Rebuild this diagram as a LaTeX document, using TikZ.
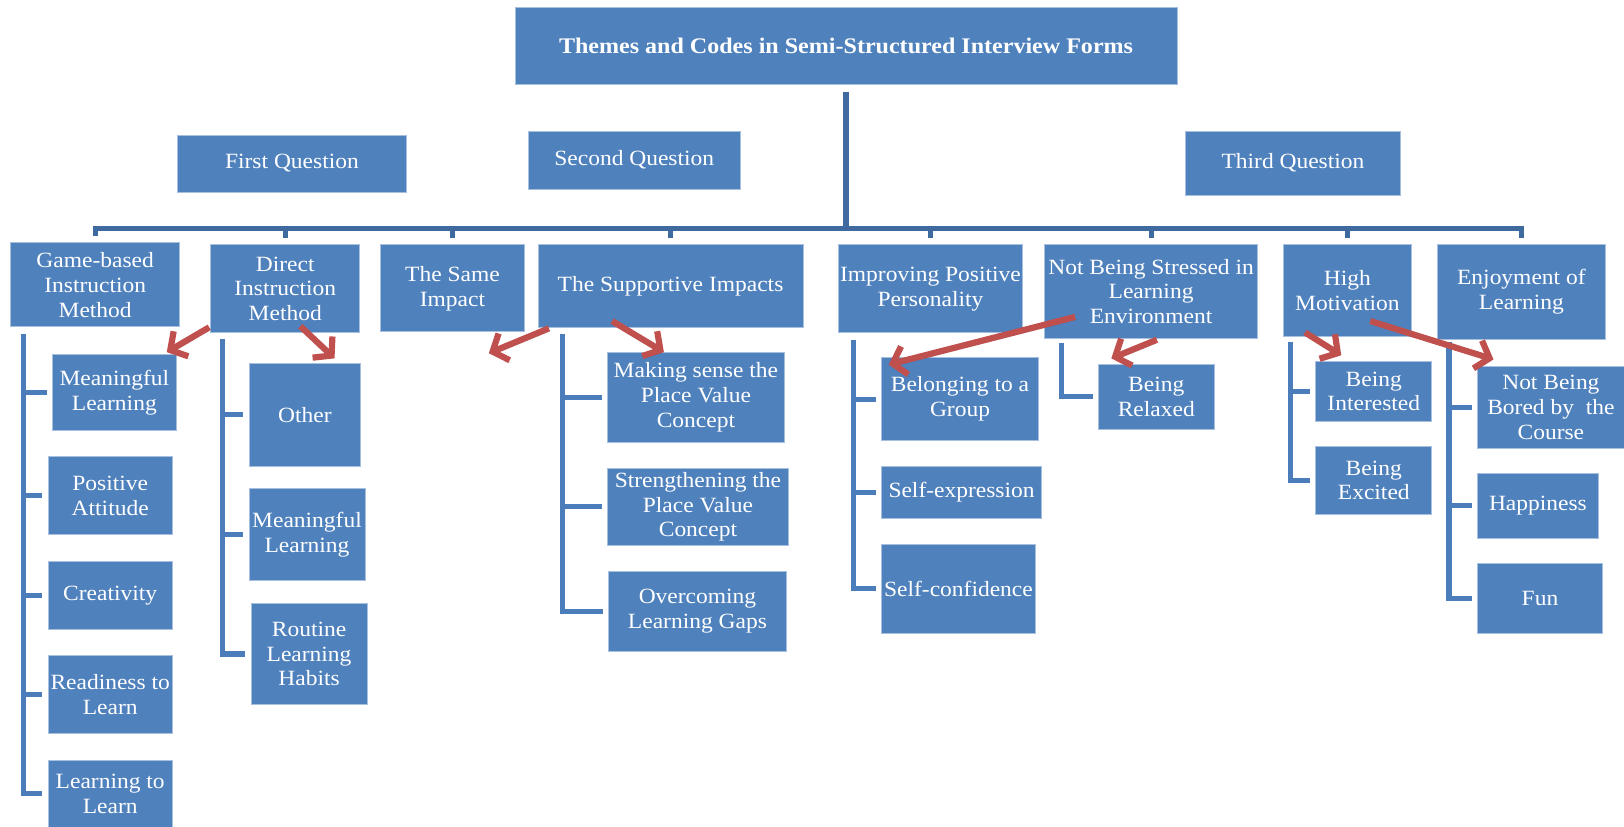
\documentclass[tikz,border=0pt]{standalone}
\usepackage{fontspec}
\setmainfont{Liberation Serif}[FakeStretch=1.08]
\usetikzlibrary{arrows.meta}
\definecolor{boxblue}{HTML}{4F81BD}
\definecolor{boxedge}{HTML}{A7C0E0}
\definecolor{busblue}{HTML}{3E6A9F}
\definecolor{brkblue}{HTML}{4A7DBA}
\definecolor{arrred}{HTML}{C0504D}
\tikzset{
 box/.style={fill=boxblue, draw=boxedge, line width=0.8pt, text=white, align=center, inner sep=0pt, font=\fontsize{21}{24}\selectfont},
 bus/.style={draw=busblue, line width=5pt},
 brk/.style={draw=brkblue, line width=5pt},
 redarr/.style={draw=arrred, line width=6pt, -{Straight Barb[length=12pt,width=28pt]},
   preaction={draw=black, opacity=0.18, transform canvas={shift={(1.5pt,-2.5pt)}}}},
}
\newcommand\mkbox[6]{\node[box, anchor=north west, minimum width={(#4-#2)*1pt}, minimum height={(#5-#3)*1pt}] (#1) at (#2,#3) {#6};}
\begin{document}
\begin{tikzpicture}[x=1pt,y=-1pt]
\useasboundingbox (0,0) rectangle (1568,798);
% title and questions
\mkbox{title}{497}{7}{1136}{81}{\bfseries\fontsize{21.5}{24}\selectfont Themes and Codes in Semi-Structured Interview Forms}
\mkbox{q1}{171}{130}{392}{185}{First Question}
\mkbox{q2}{510}{126}{714}{182}{Second Question}
\mkbox{q3}{1144}{126}{1352}{188}{Third Question}
% level 2
\mkbox{g1}{10}{234}{173}{315}{Game-based\\Instruction\\Method}
\mkbox{g2}{203}{236}{347}{321}{Direct\\Instruction\\Method}
\mkbox{g3}{367}{236}{506}{320}{The Same\\Impact}
\mkbox{g4}{519}{236}{775}{316}{The Supportive Impacts}
\mkbox{g5}{809}{236}{987}{321}{Improving Positive\\Personality}
\mkbox{g6}{1008}{236}{1214}{326}{Not Being Stressed in\\Learning\\Environment}
\mkbox{g7}{1239}{236}{1362}{324}{High\\Motivation}
\mkbox{g8}{1387}{236}{1550}{327}{Enjoyment of\\Learning}
% children
\mkbox{c11}{50}{342}{170}{415}{Meaningful\\Learning}
\mkbox{c12}{46}{440}{166}{516}{Positive\\Attitude}
\mkbox{c13}{46}{542}{166}{607}{Creativity}
\mkbox{c14}{46}{632}{166}{708}{Readiness to\\Learn}
\mkbox{c15}{46}{734}{166}{798}{Learning to\\Learn}
\mkbox{c21}{240}{350}{348}{450}{Other}
\mkbox{c22}{240}{471}{352}{560}{Meaningful\\Learning}
\mkbox{c23}{242}{582}{354}{680}{Routine\\Learning\\Habits}
\mkbox{c41}{586}{340}{757}{427}{Making sense the\\Place Value\\Concept}
\mkbox{c42}{586}{452}{761}{526}{Strengthening the\\Place Value\\Concept}
\mkbox{c43}{587}{551}{759}{629}{Overcoming\\Learning Gaps}
\mkbox{c51}{851}{345}{1002}{425}{Belonging to a\\Group}
\mkbox{c52}{851}{450}{1005}{500}{Self-expression}
\mkbox{c53}{851}{525}{999}{611}{Self-confidence}
\mkbox{c61}{1060}{351}{1172}{414}{Being\\Relaxed}
\mkbox{c71}{1270}{349}{1382}{406}{Being\\Interested}
\mkbox{c72}{1270}{431}{1382}{496}{Being\\Excited}
\mkbox{c81}{1426}{353}{1568}{433}{Not Being\\Bored by\ \ the\\Course}
\mkbox{c82}{1426}{457}{1543}{519}{Happiness}
\mkbox{c83}{1426}{544}{1547}{611}{Fun}
% bus
\coordinate (busL) at (92,221);
\draw[bus] ([yshift=-7pt]title.south) -- (title.south |- busL);
\draw[bus] ([yshift=6pt]g1.north) -- (g1.north |- busL) -- (g8.north |- busL) -- ([yshift=6pt]g8.north);
\foreach \g in {g2,g3,g4,g5,g6,g7}{
  \draw[bus] (\g.north |- busL) -- ([yshift=6pt]\g.north);
}
% brackets
\coordinate (v1) at (23,322);
\coordinate (v2) at (215,327);
\coordinate (v4) at (543,322);
\coordinate (v5) at (824,328);
\coordinate (v6) at (1025,331);
\coordinate (v7) at (1246,330);
\coordinate (v8) at (1399,330);
\draw[brk] (v1) |- ([xshift=-5pt]c15.west);
\foreach \c in {c11,c12,c13,c14}{\draw[brk] (v1 |- \c.west) -- ([xshift=-5pt]\c.west);}
\draw[brk] (v2) |- ([xshift=-5pt]c23.west);
\foreach \c in {c21,c22}{\draw[brk] (v2 |- \c.west) -- ([xshift=-5pt]\c.west);}
\draw[brk] (v4) |- ([xshift=-5pt]c43.west);
\foreach \c in {c41,c42}{\draw[brk] (v4 |- \c.west) -- ([xshift=-5pt]\c.west);}
\draw[brk] (v5) |- ([xshift=-5pt]c53.west);
\foreach \c in {c51,c52}{\draw[brk] (v5 |- \c.west) -- ([xshift=-5pt]\c.west);}
\draw[brk] (v6) |- ([xshift=-5pt]c61.west);
\draw[brk] (v7) |- ([xshift=-5pt]c72.west);
\draw[brk] (v7 |- c71.west) -- ([xshift=-5pt]c71.west);
\draw[brk] (v8) |- ([xshift=-5pt]c83.west);
\foreach \c in {c81,c82}{\draw[brk] (v8 |- \c.west) -- ([xshift=-5pt]\c.west);}
% red arrows
\coordinate (a1s) at (202,316); \coordinate (a1e) at (161,340);
\coordinate (a2s) at (290,315); \coordinate (a2e) at (323,346);
\coordinate (a3s) at (530,317); \coordinate (a3e) at (472,341);
\coordinate (a4s) at (591,310); \coordinate (a4e) at (641,340);
\coordinate (a5s) at (1038,306); \coordinate (a5e) at (858,352);
\coordinate (a6s) at (1117,328); \coordinate (a6e) at (1073,346);
\coordinate (a7s) at (1260,321); \coordinate (a7e) at (1295,343);
\coordinate (a8s) at (1323,310); \coordinate (a8e) at (1442,347);
\foreach \i in {1,...,8}{\draw[redarr] (a\i s) -- (a\i e);}
\end{tikzpicture}
\end{document}
